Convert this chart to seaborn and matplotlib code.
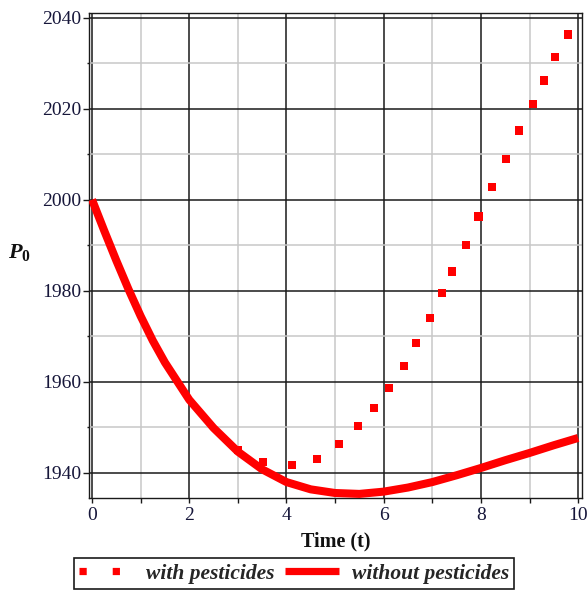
import matplotlib
matplotlib.use("Agg")
import matplotlib.pyplot as plt
import numpy as np
import pandas as pd
import seaborn as sns
from matplotlib.lines import Line2D
from matplotlib.ticker import MultipleLocator

# ---- data ----
t_without = [0, 0.25, 0.5, 0.75, 1, 1.25, 1.5, 2, 2.5, 3, 3.5, 4, 4.5, 5, 5.5,
             6, 6.5, 7, 7.5, 8, 8.5, 9, 9.5, 10]
p_without = [2000, 1993.2, 1986.6, 1980.3, 1974.4, 1969.0, 1964.2, 1956.0, 1949.8,
             1944.6, 1940.7, 1937.9, 1936.3, 1935.5, 1935.3, 1935.8, 1936.7, 1937.9,
             1939.4, 1941.0, 1942.7, 1944.3, 1946.0, 1947.6]

# visible dots of the "with pesticides" curve (earlier part lies under the solid curve)
t_with = [3.01, 3.52, 4.11, 4.62, 5.08, 5.47, 5.81, 6.11, 6.41, 6.67, 6.95, 7.20,
          7.41, 7.70, 7.95, 8.22, 8.52, 8.79, 9.07, 9.29, 9.53, 9.80]
p_with = [1944.9, 1942.4, 1941.7, 1943.0, 1946.2, 1950.2, 1954.2, 1958.5, 1963.4,
          1968.5, 1974.0, 1979.5, 1984.2, 1990.0, 1996.3, 2002.7, 2009.0, 2015.2,
          2021.0, 2026.2, 2031.4, 2036.3]

x_ticks = [0, 2, 4, 6, 8, 10]
y_ticks = [1940, 1960, 1980, 2000, 2020, 2040]
label_with = "with pesticides"
label_without = "without pesticides"
x_label = "Time (t)"

# ---- style ----
sns.set_theme(style="white")
plt.rcParams["font.family"] = ["Liberation Serif", "DejaVu Serif"]
plt.rcParams["mathtext.fontset"] = "custom"
plt.rcParams["mathtext.rm"] = "Liberation Serif"
plt.rcParams["mathtext.it"] = "Liberation Serif:italic"
plt.rcParams["mathtext.bf"] = "Liberation Serif:bold"
try:
    plt.rcParams["mathtext.bfit"] = "Liberation Serif:italic:bold"
except KeyError:
    pass

RED = "#ff0000"
TXT = "#16163a"

fig = plt.figure(figsize=(5.88, 5.92), dpi=100)
ax = fig.add_axes([89 / 588, 1 - 498 / 592, 493 / 588, 485.3 / 592])

df_with = pd.DataFrame({"t": t_with, "P": p_with})
df_without = pd.DataFrame({"t": t_without, "P": p_without})

sns.scatterplot(data=df_with, x="t", y="P", marker="s", s=34, color=RED,
                edgecolor="none", linewidth=0, ax=ax, zorder=3, legend=False)
sns.lineplot(data=df_without, x="t", y="P", color=RED, linewidth=5.8, ax=ax,
             zorder=4, legend=False, solid_capstyle="butt")

ax.set_xlim(-0.062, 10.08)
ax.set_ylim(1934.4, 2041.1)

ax.xaxis.set_minor_locator(MultipleLocator(1))
ax.yaxis.set_minor_locator(MultipleLocator(10))
ax.set_xticks(x_ticks)
ax.set_yticks(y_ticks)

ax.grid(which="minor", color="#c8c8c8", linewidth=1.1, zorder=0)
ax.grid(which="major", color="#1a1a1a", linewidth=1.1, zorder=1)
ax.set_axisbelow(True)

for s in ax.spines.values():
    s.set_color("#1a1a1a")
    s.set_linewidth(1.0)
    s.set_visible(True)

ax.tick_params(axis="x", which="major", direction="out", length=3.6, width=1.0,
               color="#1a1a1a", labelsize=14, labelcolor=TXT, pad=3, bottom=True)
ax.tick_params(axis="x", which="minor", direction="out", length=3.6, width=1.0,
               color="#1a1a1a", bottom=True)
ax.tick_params(axis="y", which="major", direction="out", length=4.3, width=1.0,
               color="#1a1a1a", labelsize=14, labelcolor=TXT, pad=1, left=True)
ax.tick_params(axis="y", which="minor", direction="out", length=1.5, width=1.0,
               color="#1a1a1a", left=True)

ax.set_xlabel(x_label, fontsize=14.5, fontweight="bold", color="#111111")
ax.xaxis.label.set_va("center")
ax.xaxis.set_label_coords(0.501, -0.0886)

ax.set_ylabel(r"$\mathbfit{P}_{\mathbf{0}}$", fontsize=16, rotation=0,
              color="#111111")
ax.yaxis.label.set_va("center")
ax.yaxis.label.set_ha("center")
ax.yaxis.set_label_coords(-0.14, 0.505)

handles = [
    Line2D([], [], color=RED, linewidth=5.2, linestyle=(0, (1.0, 3.6)),
           dash_capstyle="butt"),
    Line2D([], [], color=RED, linewidth=5.2, solid_capstyle="butt"),
]
leg = fig.legend(handles, [label_with, label_without], loc="center",
                 bbox_to_anchor=(0.5, 1 - 573.5 / 592), ncol=2, frameon=True,
                 fancybox=False, edgecolor="#1a1a1a", framealpha=1,
                 handlelength=2.5, handletextpad=0.6, columnspacing=0.5,
                 borderpad=0.25, prop={"family": ["Liberation Serif"],
                                       "weight": "bold", "style": "italic",
                                       "size": 15.5})
leg.get_frame().set_linewidth(1.2)

fig.savefig("out.png", dpi=100)
